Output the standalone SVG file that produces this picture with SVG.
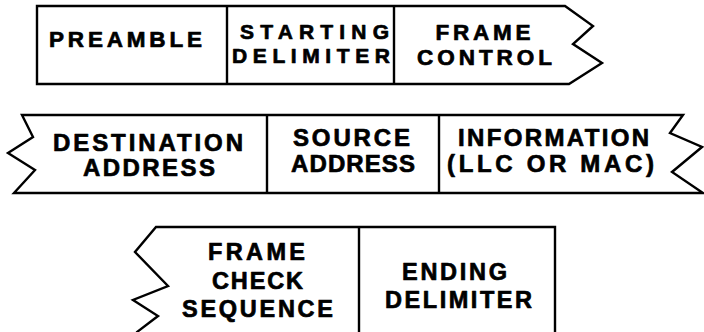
<svg xmlns="http://www.w3.org/2000/svg" width="704" height="332" viewBox="0 0 704 332">
  <style>
    .frame { fill: none; stroke: #000; stroke-width: 2.4; stroke-linejoin: miter; }
    .div { stroke: #000; stroke-width: 2.4; }
    .lbl { font-family: "Liberation Sans", Arial, Helvetica, sans-serif; font-weight: bold; font-size: 23.5px; fill: #000; stroke: #000; stroke-width: 0.7; stroke-linejoin: round; text-anchor: middle; }
    .r1 { font-size: 22.5px; }
    .tight { font-size: 21px; }
    .r2 { font-size: 24px; }
  </style>
  <rect width="704" height="332" fill="#fff"/>

  <!-- Row 1: preamble, starting delimiter, frame control -->
  <g id="row1">
    <path class="frame" d="M37,6 H565 L593,26 L573,44 L602,63 L569,84 H37 Z"/>
    <g id="preamble">
      <text class="lbl r1" x="125.5" y="47" textLength="153" lengthAdjust="spacing">PREAMBLE</text>
    </g>
    <g id="starting-delimiter">
      <line class="div" x1="227" y1="6" x2="227" y2="84"/>
      <text class="lbl tight" x="314.5" y="39" textLength="149" lengthAdjust="spacing">STARTING</text>
      <text class="lbl tight" x="311" y="62.5" textLength="158" lengthAdjust="spacing">DELIMITER</text>
    </g>
    <g id="frame-control">
      <line class="div" x1="394" y1="6" x2="394" y2="84"/>
      <text class="lbl r1" x="483" y="39.5" textLength="95" lengthAdjust="spacing">FRAME</text>
      <text class="lbl r1" x="484.5" y="65" textLength="135" lengthAdjust="spacing">CONTROL</text>
    </g>
  </g>

  <!-- Row 2: destination address, source address, information -->
  <g id="row2">
    <path class="frame" d="M22,115 H683 L670,133 L702,147 L672,172 L703,193 H14 L35,170 L8,153 L33,137 Z"/>
    <g id="destination-address">
      <text class="lbl r2" x="148" y="151" textLength="190" lengthAdjust="spacing">DESTINATION</text>
      <text class="lbl r2" x="149" y="176" textLength="132" lengthAdjust="spacing">ADDRESS</text>
    </g>
    <g id="source-address">
      <line class="div" x1="267" y1="115" x2="267" y2="193"/>
      <text class="lbl r2" x="351.5" y="146" textLength="117" lengthAdjust="spacing">SOURCE</text>
      <text class="lbl r2" x="353" y="172" textLength="124" lengthAdjust="spacing">ADDRESS</text>
    </g>
    <g id="information">
      <line class="div" x1="439" y1="115" x2="439" y2="193"/>
      <text class="lbl r2" x="553.5" y="146" textLength="191" lengthAdjust="spacing">INFORMATION</text>
      <text class="lbl r2" x="550.5" y="172" textLength="207" lengthAdjust="spacing">(LLC OR MAC)</text>
    </g>
  </g>

  <!-- Row 3: frame check sequence, ending delimiter (runs past the bottom edge) -->
  <g id="row3">
    <path class="frame" d="M137,340 L137,332 L158,316 L133,300 L168,286 L135,252 L156,227 H555 V340"/>
    <g id="frame-check-sequence">
      <text class="lbl" x="256.5" y="260" textLength="97" lengthAdjust="spacing">FRAME</text>
      <text class="lbl" x="257.5" y="289" textLength="91" lengthAdjust="spacing">CHECK</text>
      <text class="lbl" x="257.5" y="317" textLength="151" lengthAdjust="spacing">SEQUENCE</text>
    </g>
    <g id="ending-delimiter">
      <line class="div" x1="359" y1="227" x2="359" y2="340"/>
      <text class="lbl" x="454.5" y="280" textLength="105" lengthAdjust="spacing">ENDING</text>
      <text class="lbl" x="458.5" y="308" textLength="147" lengthAdjust="spacing">DELIMITER</text>
    </g>
  </g>
</svg>
